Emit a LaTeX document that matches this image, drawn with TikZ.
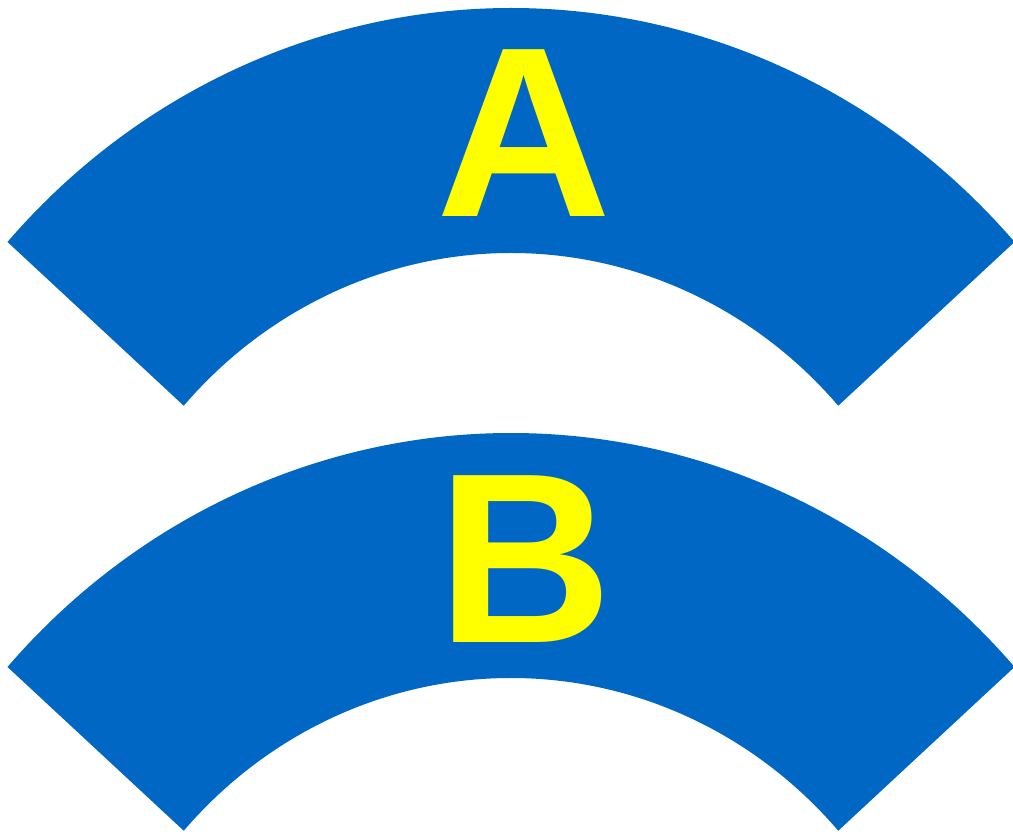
\documentclass[tikz,border=0pt]{standalone}
\usepackage{fontspec}
\setmainfont{Liberation Sans}
\usetikzlibrary{calc}
\definecolor{bandblue}{RGB}{0,103,197}
\definecolor{letteryellow}{RGB}{255,255,0}

\begin{document}
\begin{tikzpicture}[
  band/.style={fill=bandblue, draw=none},
  letter/.style={text=letteryellow, inner sep=0pt, anchor=base, font=\fontsize{69}{69}\selectfont\bfseries}
]
\useasboundingbox (0,0) rectangle (10.13,8.35);

\coordinate (ctrA) at (5.11,1.24);
\coordinate (ctrB) at (5.11,-3.01);

% upper band
\fill[band] ($(ctrA)+(138.15:6.76 and 7.03)$)
  arc[start angle=138.15, end angle=41.85, x radius=6.76, y radius=7.03]
  -- ($(ctrA)+(41.8:4.39 and 4.58)$)
  arc[start angle=41.8, end angle=138.2, x radius=4.39, y radius=4.58]
  -- cycle;

% lower band
\fill[band] ($(ctrB)+(138.15:6.76 and 7.03)$)
  arc[start angle=138.15, end angle=41.85, x radius=6.76, y radius=7.03]
  -- ($(ctrB)+(41.8:4.39 and 4.58)$)
  arc[start angle=41.8, end angle=138.2, x radius=4.39, y radius=4.58]
  -- cycle;

\node[letter] (labA) at (5.245,6.18) {A};
\node[letter] (labB) at (5.25,1.92) {B};
\end{tikzpicture}
\end{document}
